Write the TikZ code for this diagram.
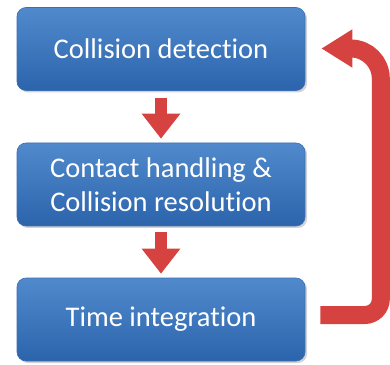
\documentclass[tikz,border=0pt]{standalone}
\usepackage{fontspec}
\setmainfont{Carlito}[Ligatures=NoCommon]
\usetikzlibrary{arrows.meta,shadows}
\definecolor{boxtop}{RGB}{80,138,204}
\definecolor{boxbot}{RGB}{44,100,172}
\definecolor{boxline}{RGB}{60,110,180}
\definecolor{arrred}{RGB}{214,66,64}
\begin{document}
\begin{tikzpicture}[x=1pt,y=1pt,
  stage/.style={rounded corners=9pt, top color=boxtop, bottom color=boxbot,
    draw=boxline, line width=0.6pt,
    minimum width=288pt, minimum height=83pt, text=white, align=center,
    font=\fontsize{28.5}{34}\selectfont, inner sep=0pt,
    drop shadow={opacity=0.35, shadow xshift=2pt, shadow yshift=-2pt}},
  fatdown/.style={draw=arrred, line width=12pt,
    -{Triangle[width=37pt,length=25pt]}},
  loop/.style={draw=arrred, line width=18pt,
    -{Triangle[width=36pt,length=31pt]}}]
\useasboundingbox (0,0) rectangle (390,364);
\node[stage] (b1) at (161,315) {Collision detection};
\node[stage] (b2) at (161,179.5) {Contact handling \&\\Collision resolution};
\node[stage] (b3) at (161,44.5) {Time integration};
\draw[fatdown] ([yshift=-7pt]b1.south) -- ([yshift=4pt]b2.north);
\draw[fatdown] ([yshift=-6pt]b2.south) -- ([yshift=4pt]b3.north);
\draw[loop] ([xshift=15pt,yshift=4.5pt]b3.east) -- ++(44.5,0)
  arc[start angle=-90,end angle=0,radius=16]
  -- ++(0,220.5)
  arc[start angle=0,end angle=90,radius=30]
  -- ([xshift=16pt,yshift=0.5pt]b1.east);
\end{tikzpicture}
\end{document}
